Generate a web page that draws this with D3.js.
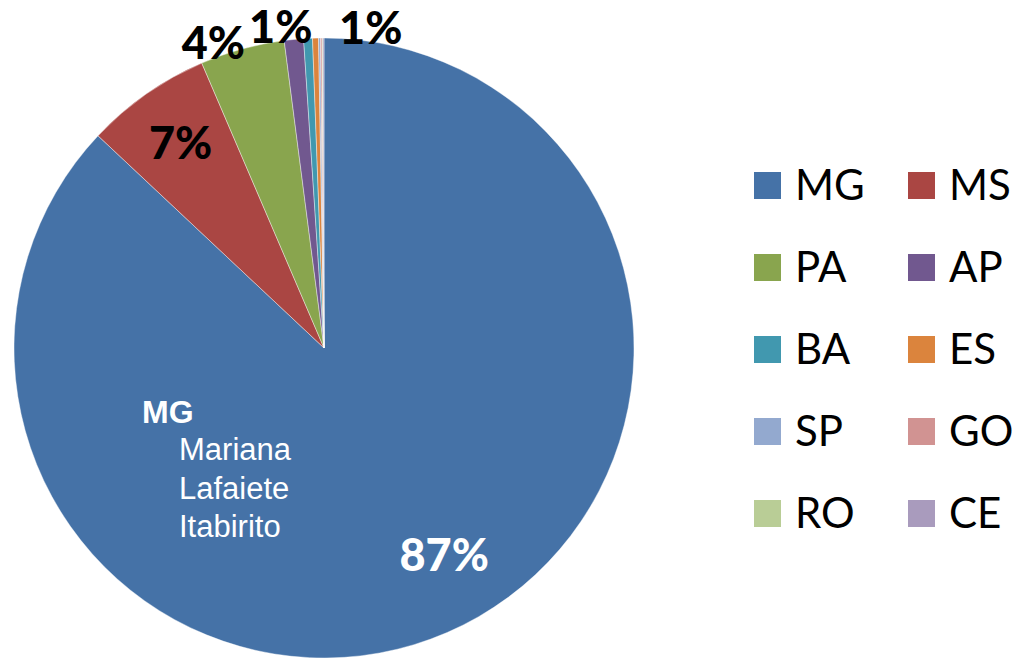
<!DOCTYPE html>
<html>
<head>
<meta charset="utf-8">
<script src="https://cdn.jsdelivr.net/npm/d3@7"></script>
<style>
  body { margin: 0; background: #fff; }
  svg { display: block; }
</style>
</head>
<body>
<svg id="chart" width="1019" height="664"></svg>
<script>
// states, in the order the slices run clockwise from 12 o'clock
var states = ["MG", "MS", "PA", "AP", "BA", "ES", "SP", "GO", "RO", "CE"];
var shares = [87.0, 6.55, 4.4, 1.0, 0.46, 0.31, 0.1, 0.08, 0.04, 0.06];
var colors = ["#4572A7", "#AA4643", "#89A54E", "#71588F", "#4198AF",
              "#DB843D", "#93A9CF", "#D19392", "#B9CD96", "#A99BBD"];
var labels = ["87%", "7%", "4%", "1%", "", "", "", "", "", "1%"];
var mgCities = ["Mariana", "Lafaiete", "Itabirito"];

var svg = d3.select("#chart");
var cx = 324, cy = 348, radius = 310;

var color = d3.scaleOrdinal().domain(states).range(colors);

var pie = d3.pie().sort(null).value(function (d, i) { return shares[i]; });
var arcs = pie(states);

var arc = d3.arc().innerRadius(0).outerRadius(radius);

var g = svg.append("g").attr("transform", "translate(" + cx + "," + cy + ")");

g.selectAll("path")
    .data(arcs)
    .enter()
    .append("path")
    .attr("d", arc)
    .attr("fill", function (d) { return color(d.data); })
    .attr("stroke", "#fff")
    .attr("stroke-width", 0.4);

// label placement: radius and angle nudge (degrees) per slice
var labelRadius = [239, 250, 325, 324, 0, 0, 0, 0, 0, 324];
var labelNudge  = [-6.8, 0, -4.6, -2.1, 0, 0, 0, 0, 0, 8.3];

g.selectAll("text.pct")
    .data(arcs)
    .enter()
    .filter(function (d, i) { return labels[i] !== ""; })
    .append("text")
    .attr("class", "pct")
    .attr("transform", function (d) {
        var i = d.index;
        var a = (d.startAngle + d.endAngle) / 2 + labelNudge[i] * Math.PI / 180;
        if (i === 9) a = labelNudge[i] * Math.PI / 180;
        var r = labelRadius[i];
        return "translate(" + (r * Math.sin(a)) + "," + (-r * Math.cos(a)) + ")";
    })
    .attr("text-anchor", "middle")
    .attr("dy", "0.36em")
    .attr("font-family", "Lato, 'Open Sans', sans-serif")
    .attr("font-weight", "900")
    .attr("font-size", 45)
    .attr("fill", function (d) { return d.index === 0 ? "#fff" : "#000"; })
    .text(function (d) { return labels[d.index]; });

// MG annotation
var note = svg.append("g")
    .attr("font-family", "'Liberation Sans', Arial, sans-serif")
    .attr("fill", "#fff");
note.append("text")
    .attr("x", 142).attr("y", 423)
    .attr("font-size", 32)
    .attr("font-weight", "bold")
    .text("MG");
note.selectAll("text.city")
    .data(mgCities)
    .enter()
    .append("text")
    .attr("class", "city")
    .attr("x", 179)
    .attr("y", function (d, i) { return 460 + i * 38.5; })
    .attr("font-size", 31)
    .text(function (d) { return d; });

// legend, two columns
var legend = svg.append("g");
var item = legend.selectAll("g")
    .data(states)
    .enter()
    .append("g")
    .attr("transform", function (d, i) {
        var col = i % 2, row = Math.floor(i / 2);
        return "translate(" + (754 + col * 154) + "," + (172 + row * 82) + ")";
    });
item.append("rect")
    .attr("width", 27).attr("height", 27)
    .attr("fill", function (d) { return color(d); });
item.append("text")
    .attr("x", 41).attr("y", 28)
    .attr("font-family", "Lato, 'Open Sans', sans-serif")
    .attr("font-size", 42)
    .attr("fill", "#000")
    .text(function (d) { return d; });
</script>
</body>
</html>
